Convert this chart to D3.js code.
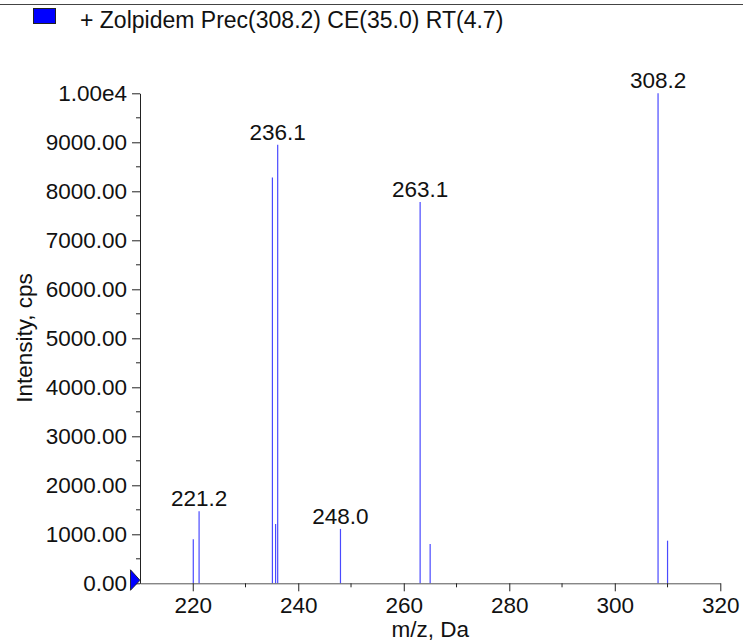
<!DOCTYPE html>
<html>
<head>
<meta charset="utf-8">
<script src="https://cdn.jsdelivr.net/npm/d3@7"></script>
<style>
  html, body { margin: 0; padding: 0; background: #fff; }
  svg { display: block; font-family: "Liberation Sans", Arial, sans-serif; }
</style>
</head>
<body>
<svg id="chart" width="743" height="641"></svg>
<script>
// ---- data ----
const title = "+ Zolpidem Prec(308.2) CE(35.0) RT(4.7)";
const peakMz =        [220.1, 221.2, 235.1, 235.7, 236.1, 248.0, 263.1, 265.0, 308.2, 310.0];
const peakIntensity = [ 900,  1470,  8280,  1210,  8950,  1110,  7780,   800, 10000,   870];
const labeledPeaks = ["221.2", "236.1", "248.0", "263.1", "308.2"];
const xTicks = [220, 240, 260, 280, 300, 320];
const xMinorTicks = [230, 250, 270, 290, 310];
const yTicks = [0, 1000, 2000, 3000, 4000, 5000, 6000, 7000, 8000, 9000, 10000];
const yTickLabels = ["0.00", "1000.00", "2000.00", "3000.00", "4000.00", "5000.00", "6000.00", "7000.00", "8000.00", "9000.00", "1.00e4"];
const yMinorTicks = [500, 1500, 2500, 3500, 4500, 5500, 6500, 7500, 8500, 9500];
const xDomain = [210, 320];
const yDomain = [0, 10000];

// ---- layout ----
const svg = d3.select("#chart");
const plotLeft = 140, plotRight = 720.3, plotTop = 93.3, plotBottom = 583.3;
const x = d3.scaleLinear().domain(xDomain).range([plotLeft, plotRight]);
const y = d3.scaleLinear().domain(yDomain).range([plotBottom, plotTop]);
const fs = 22.5;

// top rule
svg.append("line").attr("x1", 0).attr("x2", 743).attr("y1", 4.5).attr("y2", 4.5)
  .attr("stroke", "#444").attr("stroke-width", 1);

// legend
svg.append("rect").attr("x", 33.5).attr("y", 8.5).attr("width", 22).attr("height", 15)
  .attr("fill", "#0000ff").attr("stroke", "#222").attr("stroke-width", 1);
svg.append("text").attr("x", 80).attr("y", 27.5).attr("font-size", 23).attr("fill", "#111")
  .text(title);

// peaks
const peaks = peakMz.map((m, i) => ({ m, v: peakIntensity[i] }));
svg.append("g").selectAll("line").data(peaks).join("line")
  .attr("x1", d => x(d.m)).attr("x2", d => x(d.m))
  .attr("y1", y(0)).attr("y2", d => y(d.v))
  .attr("stroke", "#4a4aff").attr("stroke-width", 1.2);

// peak labels
svg.append("g").selectAll("text")
  .data(peaks.filter(d => labeledPeaks.includes(d.m.toFixed(1))))
  .join("text")
  .attr("x", d => x(d.m)).attr("y", d => y(d.v) - 5)
  .attr("text-anchor", "middle").attr("font-size", fs).attr("fill", "#111")
  .text(d => d.m.toFixed(1));

// x axis
const xAxis = svg.append("g").attr("transform", `translate(0,${plotBottom})`)
  .call(d3.axisBottom(x).tickValues(xTicks).tickFormat(d3.format("d")).tickSize(8).tickSizeOuter(0));
xAxis.select(".domain").attr("stroke", "#555");
xAxis.selectAll(".tick line").attr("stroke", "#222");
xAxis.selectAll(".tick text").attr("font-size", fs).attr("fill", "#111").attr("font-family", null)
  .attr("dy", null).attr("y", 29.5);
svg.append("g").attr("transform", `translate(0,${plotBottom})`)
  .selectAll("line").data(xMinorTicks).join("line")
  .attr("x1", d => x(d)).attr("x2", d => x(d)).attr("y1", 0).attr("y2", 4)
  .attr("stroke", "#222");

// y axis
const yAxis = svg.append("g").attr("transform", `translate(${plotLeft},0)`)
  .call(d3.axisLeft(y).tickValues(yTicks).tickFormat((d, i) => yTickLabels[i]).tickSize(8).tickSizeOuter(0));
yAxis.select(".domain").attr("stroke", "#222");
yAxis.selectAll(".tick line").attr("stroke", "#222");
yAxis.selectAll(".tick text").attr("font-size", fs).attr("fill", "#111").attr("font-family", null).attr("x", -13);
svg.append("g").attr("transform", `translate(${plotLeft},0)`)
  .selectAll("line").data(yMinorTicks).join("line")
  .attr("x1", 0).attr("x2", -4).attr("y1", d => y(d)).attr("y2", d => y(d))
  .attr("stroke", "#222");

// blue baseline marker
svg.append("path")
  .attr("d", d3.line()([[130.5, y(0) - 13.5], [140, y(0) - 3], [130.5, y(0) + 7]]) + "Z")
  .attr("fill", "#0000ff").attr("stroke", "#111").attr("stroke-width", 0.8);

// axis titles
svg.append("text").attr("x", x(265)).attr("y", 637).attr("text-anchor", "middle")
  .attr("font-size", fs).attr("fill", "#111").text("m/z, Da");
svg.append("text").attr("transform", `translate(32,338) rotate(-90)`)
  .attr("text-anchor", "middle").attr("font-size", fs).attr("fill", "#111").text("Intensity, cps");
</script>
</body>
</html>
